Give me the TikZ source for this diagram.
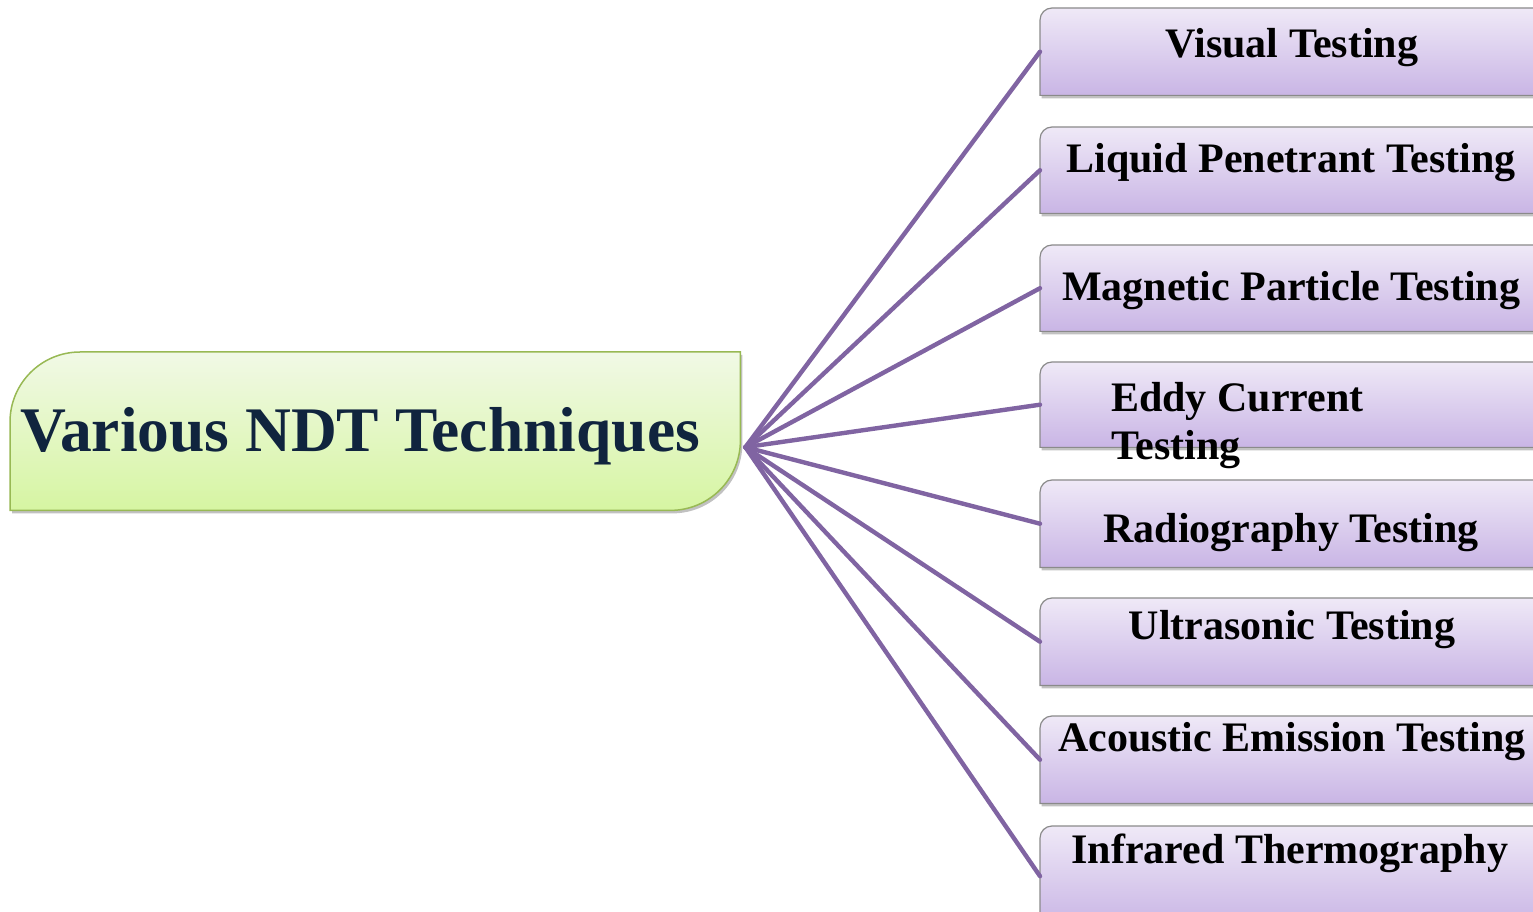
\documentclass[tikz,border=0pt]{standalone}
\usepackage{fontspec}
\setmainfont{Liberation Serif}
\usetikzlibrary{shadows,backgrounds}
\definecolor{linec}{HTML}{8064A2}
\definecolor{ctop}{HTML}{F1F9E6}
\definecolor{cbot}{HTML}{D6F5A2}
\definecolor{cborder}{HTML}{98B954}
\definecolor{ctext}{HTML}{10243E}
\definecolor{btop}{HTML}{EFE9F7}
\definecolor{bbot}{HTML}{C9B5E5}
\definecolor{bborder}{HTML}{8A8A8A}
\tikzset{
  boxanchor/.style={rectangle, draw=none, inner sep=0pt, minimum width=520pt, minimum height=#1, anchor=north west},
  boxanchor/.default=87pt,
  boxtext/.style={font=\fontsize{42}{48}\selectfont\bfseries, text=black, inner sep=0pt, anchor=base},
  boxshape/.style={top color=btop, bottom color=bbot, draw=bborder, line width=1.2pt,
    drop shadow={shadow xshift=1.5pt, shadow yshift=-3pt, opacity=0.35, fill=black!70}},
  centershape/.style={top color=ctop, bottom color=cbot, draw=cborder, line width=1.5pt,
    drop shadow={shadow xshift=2pt, shadow yshift=-3pt, opacity=0.35, fill=black!70}},
  conn/.style={draw=linec, line width=4.4pt, line cap=round},
}
\begin{document}
\begin{tikzpicture}[x=1pt,y=1pt]
\useasboundingbox (0,0) rectangle (1533,911);
% central box frame (invisible node) and text
\node[rectangle, draw=none, inner sep=0pt, minimum width=730pt, minimum height=158pt, anchor=north west] (cbox) at (10,{911-352}) {};
\node[font=\fontsize{63.5}{70}\selectfont\bfseries, text=ctext, inner sep=0pt, anchor=base] (ctitle) at (360,{911-452}) {Various NDT Techniques};
% technique boxes (invisible nodes)
\node[boxanchor] (b1) at (1040,{911-8}) {};
\node[boxanchor=86pt] (b2) at (1040,{911-127}) {};
\node[boxanchor=86pt] (b3) at (1040,{911-245}) {};
\node[boxanchor=85pt] (b4) at (1040,{911-362}) {};
\node[boxanchor] (b5) at (1040,{911-480}) {};
\node[boxanchor] (b6) at (1040,{911-598}) {};
\node[boxanchor] (b7) at (1040,{911-716}) {};
\node[boxanchor=100pt] (b8) at (1040,{911-826}) {};
% texts
\node[boxtext] (t1) at (1292,{911-58}) {Visual Testing};
\node[boxtext] (t2) at (1291,{911-173}) {Liquid Penetrant Testing};
\node[boxtext] (t3) at (1291,{911-301}) {Magnetic Particle Testing};
\node[boxtext, anchor=base west, align=left] (t4) at (1111,{911-460}) {Eddy Current\\Testing};
\node[boxtext] (t5) at (1291,{911-543}) {Radiography Testing};
\node[boxtext] (t6) at (1292,{911-639}) {Ultrasonic Testing};
\node[boxtext] (t7) at (1292,{911-751}) {Acoustic Emission Testing};
\node[boxtext] (t8) at (1290,{911-863}) {Infrared Thermography};
\coordinate (j) at ([xshift=5pt,yshift=-16pt]cbox.east);
\begin{scope}[on background layer]
  \path[centershape] (cbox.south west) -- ([yshift=-70pt]cbox.north west)
    arc[start angle=180, end angle=90, radius=70pt] -- (cbox.north east)
    -- ([yshift=70pt]cbox.south east) arc[start angle=0, end angle=-90, radius=70pt] -- cycle;
  \foreach \b in {b1,b2,b3,b4,b5,b6,b7,b8}{
    \path[boxshape] (\b.south west) -- ([yshift=-12pt]\b.north west)
      arc[start angle=180, end angle=90, radius=12pt] -- (\b.north east)
      -- (\b.south east) -- cycle;
  }
  \foreach \b in {b1,b2,b3,b4,b5,b6,b7,b8}{
    \draw[conn] (j) -- (\b.west);
  }
\end{scope}
\end{tikzpicture}
\end{document}
